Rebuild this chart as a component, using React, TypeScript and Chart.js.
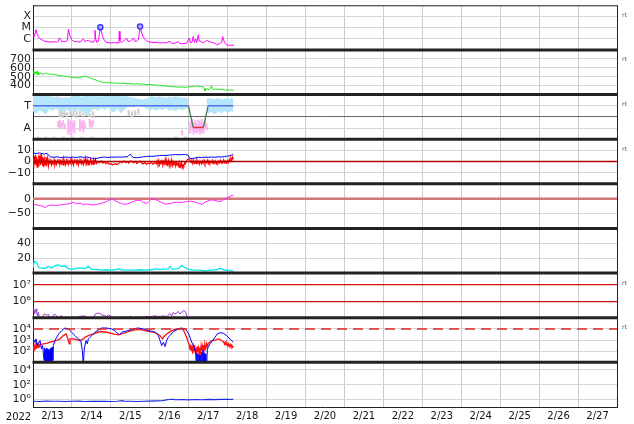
import React, { useEffect, useRef } from 'react';
import { Chart, registerables } from 'chart.js';

Chart.register(...registerables);

type Pair = [number, number];
type Streak = [number, number, number];

// ---------- axis labels ----------
const dayLabels = ['2/13', '2/14', '2/15', '2/16', '2/17', '2/18', '2/19', '2/20', '2/21', '2/22', '2/23', '2/24', '2/25', '2/26', '2/27'];
const yearLabel = '2022';
const xrayTicks = [1e-4, 1e-5, 1e-6];
const xrayTickLabels = ['X', 'M', 'C'];
const speedTicks = [400, 500, 600, 700];
const sectorTicks = [1, 2, 3];
const sectorTickLabels = ['A', '', 'T'];
const bTicks = [-10, 0, 10];
const bTickLabels = ['\u221210', '0', '10'];
const dstTicks = [-50, 0];
const dstTickLabels = ['\u221250', '0'];
const densTicks = [20, 40];
const elecTicks = [1e6, 1e7];
const elecTickLabels = ['10\u2076', '10\u2077'];
const protTicks = [1e2, 1e3, 1e4];
const protTickLabels = ['10\u00b2', '10\u00b3', '10\u2074'];
const lowTicks = [1, 1e2, 1e4];
const lowTickLabels = ['10\u2070', '10\u00b2', '10\u2074'];
const rtPanels = [0, 1, 2, 3, 6, 7];

// ---------- series (x = hours since 2/13 00:00) ----------
const xrayFlux: Pair[] = [[0,2.3e-6],[0.8,1.5e-6],[1.85,6.4e-6],[2.6,2.5e-6],[3.5,1.3e-6],[4.8,9e-7],[6.4,7e-7],[8,5.5e-7],[10.5,5.1e-7],[12.5,5.4e-7],[14.5,5e-7],[15.6,6e-7],[16.2,1.2e-6],[17,9e-7],[17.6,5.5e-7],[18.7,5.9e-7],[20,5.5e-7],[21.2,7e-7],[21.8,7.4e-6],[22.6,2.2e-6],[23.8,8.3e-7],[25,6e-7],[26.9,5.5e-7],[29,5.1e-7],[31,9.5e-7],[32.1,6e-7],[34.1,7.2e-7],[35.5,5.5e-7],[37.2,5e-7],[37.8,7e-7],[38.2,5.6e-6],[38.7,9e-7],[39.3,4.8e-7],[40.3,6e-7],[41,3e-6],[41.5,1.1e-5],[42.2,4e-6],[43,1.5e-6],[43.8,8.3e-7],[45,5e-7],[47.5,4.2e-7],[50,4.5e-7],[52.6,4.2e-7],[53,1e-6],[53.2,4.6e-6],[53.6,7e-7],[54.5,4.8e-7],[55.7,5.9e-7],[57.7,1.17e-6],[58.5,6e-7],[59.8,5.9e-7],[61.9,1.2e-6],[62.8,6e-7],[63.9,5.9e-7],[64.9,8e-7],[65.5,3e-6],[66,1.26e-5],[66.8,4e-6],[67.8,1.6e-6],[69,9e-7],[70.5,6e-7],[72.1,5.1e-7],[74,4.6e-7],[76.2,4.8e-7],[78,4.2e-7],[80.4,4.5e-7],[82,4.2e-7],[84.5,6e-7],[85.5,4e-7],[87,3.8e-7],[89.6,5.5e-7],[90.5,3.8e-7],[92,3.6e-7],[94.7,4e-7],[96.4,1.17e-6],[97,4.5e-7],[98,5e-7],[98.8,1.6e-6],[99.5,4.8e-7],[100.3,9.5e-7],[100.9,4.5e-7],[101.9,2.3e-6],[102.5,6e-7],[103,5.9e-7],[105,4.2e-7],[107,7.2e-7],[108.5,5.5e-7],[110.2,4.8e-7],[112,4e-7],[113.2,2.9e-7],[115,3.6e-7],[116.3,5e-7],[116.9,1.6e-6],[117.8,6e-7],[118.6,3.5e-7],[119.4,2.8e-7],[121,2.6e-7],[122.5,2.7e-7],[123.9,2.6e-7]];
const flareMarks: Pair[] = [[41.5,1.1e-5],[66,1.26e-5]];

const windSpeed: Pair[] = [[0,540],[0.5,565],[1,525],[1.5,555],[2,530],[2.5,560],[3,520],[3.5,548],[4,528],[5,545],[6,522],[7,540],[8,530],[9,536],[10,524],[11,532],[12,528],[13,522],[14,526],[15,518],[16,512],[17,515],[18,508],[19,510],[20,502],[21,506],[22,498],[23,494],[24,490],[25,494],[26,488],[27,492],[28,486],[29,490],[30,496],[31,502],[32,506],[33,500],[34,495],[35,488],[36,480],[37,472],[38,468],[39,462],[40,452],[41,448],[42,440],[43,436],[44,438],[45,433],[46,435],[47,430],[48,434],[49,430],[50,428],[51,432],[52,426],[54,424],[56,428],[58,420],[60,424],[62,418],[64,422],[66,416],[68,418],[70,412],[72,414],[74,408],[76,406],[78,402],[80,398],[82,396],[84,392],[86,388],[88,386],[90,382],[92,386],[94,380],[95,384],[96,390],[97,386],[98,394],[99,388],[100,392],[101,398],[102,394],[103,388],[104,392],[105,385],[105.5,370],[106,341],[106.5,360],[107,352],[107.5,368],[108,356],[109,362],[109.5,372],[110,400],[110.5,372],[111,356],[112,360],[113,362],[114,356],[115,360],[116,356],[117,358],[118,352],[119,350],[120,354],[121,350],[122,352],[123,348],[123.9,351]];

const phiUpper: (number | null)[][] = [[0,3.88],[2,3.9],[4,3.85],[6,3.9],[8,3.82],[10,3.86],[12,3.8],[14,3.75],[16,3.8],[18,3.7],[20,3.78],[22,3.72],[24,3.85],[26,3.9],[28,3.86],[30,3.8],[32,3.9],[34,3.85],[36,3.9],[38,3.82],[40,3.88],[42,3.8],[44,3.9],[46,3.86],[48,3.92],[50,3.85],[52,3.9],[54,3.84],[56,3.88],[58,3.82],[60,3.75],[62,3.72],[64,3.65],[66,3.6],[68,3.55],[70,3.68],[72,3.8],[74,3.85],[76,3.75],[78,3.82],[80,3.78],[82,3.7],[84,3.8],[86,3.75],[88,3.85],[90,3.78],[92,3.72],[94,3.75],[95.5,3.7],[100,null],[107,3.6],[108,3.7],[110,3.65],[112,3.6],[114,3.7],[116,3.55],[118,3.65],[120,3.6],[122,3.7],[123.5,3.6]];
const phiLower: (number | null)[][] = [[0,2.5],[2,2.3],[4,2.6],[6,2.45],[8,2.2],[10,2.7],[12,2.55],[14,2.75],[16,2.6],[18,2.45],[20,2.7],[22,2.5],[24,2.65],[26,2.4],[28,2.7],[30,2.5],[32,2.35],[34,2.2],[36,2.6],[38,2.7],[40,2.55],[42,2.8],[44,2.65],[46,2.8],[48,2.6],[50,2.4],[52,2.75],[54,2.3],[56,2.6],[58,2.85],[60,2.9],[62,2.8],[64,3.0],[66,2.95],[68,2.9],[70,2.75],[72,2.6],[74,2.7],[76,2.55],[78,2.75],[80,2.6],[82,2.8],[84,2.55],[86,2.65],[88,2.5],[90,2.7],[92,2.6],[94,2.75],[95.5,2.8],[100,null],[107,2.5],[108,2.3],[110,2.45],[112,2.2],[114,2.5],[116,2.3],[118,2.55],[120,2.35],[122,2.5],[123.5,2.4]];
const greyStreaks: Streak[] = [[0.5,3.98,3.8],[2,3.98,3.85],[3.5,3.97,3.8],[5,3.98,3.82],[7,3.97,3.85],[9,3.98,3.8],[11,3.96,3.82],[13,3.97,3.85],[15,3.98,3.8],[16.5,2.6,2.0],[18,2.5,1.9],[19.5,2.6,2.1],[21,2.4,1.95],[23,2.5,2.1],[25,2.6,2.0],[27,2.5,1.9],[29,2.6,2.05],[31,2.4,1.95],[33,2.5,2.1],[35,2.3,2.0],[37,2.5,1.9],[3,0.25,0.12],[8,0.25,0.12],[13,0.25,0.12],[19,0.25,0.12],[24,0.25,0.12],[30,0.25,0.12],[36,0.25,0.12],[88,0.25,0.12],[94,0.25,0.12],[59,2.6,2.1],[61,2.5,2.0],[63,2.6,2.05],[65,2.7,2.2]];
const pinkStreaks: Streak[] = [[15.5,1.6,1.1],[16.5,1.75,0.9],[17.5,1.5,1.0],[18.5,1.7,1.2],[19.5,1.4,0.9],[21.8,1.8,0.4],[22.8,1.6,0.6],[23.6,1.75,0.3],[24.5,1.5,0.8],[25.5,1.7,0.5],[29,1.8,0.7],[30,1.6,0.9],[31,1.75,0.6],[32,1.5,1.0],[35,1.8,1.1],[36,1.6,1.0],[37,1.7,1.2],[92,0.8,0.35],[97,1.6,0.5],[98,1.8,0.8],[99,1.5,0.4],[100,1.7,0.6],[101,1.4,0.5],[102,1.75,0.7],[103,1.6,0.4],[104,1.8,0.6],[105,1.5,0.5],[106,1.7,0.9],[107,1.4,0.8]];
const sectorLine: Pair[] = [[0,3],[95.8,3],[98.8,1.05],[105,1.05],[108,3],[123.5,3]];

const bzSeries: Pair[] = [[0,-4],[0.3,3],[0.6,-5],[1,5],[1.3,-2],[1.6,6],[2,-3],[2.3,4],[2.6,-5],[3,2],[3.3,-4],[3.6,6],[4,-1],[4.3,5],[4.6,-3],[5,7],[5.3,-2],[5.6,4],[6,-4],[6.3,3],[6.6,-5],[7,2],[7.5,-3],[8,4],[8.5,-2],[9,3],[9.5,-4],[10,1],[10.5,-2],[11,2],[11.5,-3],[12,0],[12.5,-2],[13,1.5],[13.5,-3],[14,0],[14.5,-2.5],[15,1],[15.5,-1.5],[16,2],[16.5,-3],[17,0.5],[17.5,-2],[18,1],[18.5,-3],[19,2],[19.5,-1],[20,-3],[20.5,1],[21,-2],[21.5,2],[22,-2.5],[22.5,0],[23,-1.5],[23.5,2.5],[24,-2],[24.5,0],[25,-3],[25.5,1],[26,-1],[26.5,2],[27,-2],[27.5,0.5],[28,-3],[28.5,1],[29,-1.5],[29.5,2.5],[30,-2],[30.5,0],[31,-2.5],[31.5,1.5],[32,-1],[32.5,3],[33,-2],[33.5,1],[34,-3],[34.5,0],[35,-1.5],[35.5,2],[36,-2],[36.5,0.5],[37,-2.5],[37.5,1],[38,-1],[38.5,2],[39,-2],[40,0],[41,-1],[42,0.5],[43,-1.5],[44,-0.5],[45,-2],[46,-1],[47,-2.5],[48,-2],[49,-3],[50,-2.5],[51,-2],[52,-2.8],[53,-1.5],[54,0],[55,-1],[56,0.5],[57,-1],[58,0],[59,-1.5],[60,0.5],[61,0],[62,-1],[63,0.2],[64,-1.8],[65,-0.5],[66,0.5],[67,-1.5],[68,-2],[69,-1],[70,-2.5],[71,-1.5],[72,-2],[73,-0.5],[74,-2.5],[75,-1],[76,-2],[76.5,0.5],[77,-2],[77.5,1],[78,-3],[78.5,0],[79,-2],[79.5,1.5],[80,-3.5],[80.5,0],[81,-2],[81.5,2],[82,-3],[82.5,0.5],[83,-2.5],[83.5,1],[84,-4],[84.5,0],[85,-2],[85.5,1.5],[86,-3.5],[86.5,-0.5],[87,-3],[87.5,0.5],[88,-4],[88.5,-1],[89,-3],[89.5,-1.5],[90,-5],[90.5,-2],[91,-4.5],[91.5,-1],[92,-5.5],[92.5,-3],[93,-4],[93.5,-1],[94,-2],[94.5,0],[95,1.5],[96,2.5],[96.8,1],[97.5,-1],[98,0.5],[98.5,-2],[99,1],[99.5,-1.5],[100,0],[100.5,-2],[101,1.5],[101.5,-1],[102,0],[102.5,-2.5],[103,0.5],[103.5,-1],[104,-2],[104.5,0.5],[105,-1.5],[105.5,1],[106,-2],[106.5,0],[107,-1],[107.5,1],[108,-2],[108.5,0.5],[109,-1.5],[109.5,0],[110,-1],[110.5,1],[111,-2],[111.5,0],[112,-1],[112.5,0.5],[113,-2],[113.5,-0.5],[114,-1.5],[114.5,0.5],[115,-1],[115.5,1],[116,-1.5],[116.5,0],[117,-1],[117.5,1.5],[118,-1],[118.5,0.5],[119,-1.5],[119.5,0],[120,1],[120.5,-1],[121,2],[121.5,0],[122,3],[122.5,1],[123,4],[123.5,2]];
const btSeries: Pair[] = [[0,7.5],[2,7.2],[4,7.6],[6,7],[7,6.5],[8,7.4],[9,6.8],[10,5],[11,4],[13,3.8],[15,4.2],[17,3.6],[19,3.8],[21,4],[23,3.5],[25,3.9],[27,3.6],[29,4.3],[31,3.7],[33,4],[35,3.5],[36,2.8],[37,3.2],[38,2.5],[40,3],[42,3.8],[44,4],[46,3.6],[48,4],[50,3.8],[52,4.1],[54,3.9],[56,4.2],[58,4],[59,5.5],[60,6.5],[61,4.5],[62,3.5],[64,3.4],[66,3.8],[68,4.2],[70,4.5],[72,4.8],[74,4.6],[76,5],[78,5.3],[80,5.5],[82,5.4],[84,5.8],[86,6],[88,6.2],[90,6],[92,6.3],[94,6.2],[95.5,5.8],[96.5,3],[98,2.5],[100,3.2],[102,3.8],[104,3.6],[106,4],[108,3.7],[110,4.1],[112,3.8],[114,4.2],[116,4],[118,4.5],[120,4.8],[122,5.5],[123.5,6.5]];

const dstSeries: Pair[] = [[0.2,-19],[1.5,-20],[3.3,-22],[5.3,-24],[6.5,-27],[7.4,-30],[8.5,-26],[9.5,-23],[11.5,-21],[13,-22],[14.6,-23],[16.5,-21],[18.7,-19],[20.5,-18],[22.8,-16],[24.9,-12],[26.9,-17],[29,-14],[31,-20],[32.5,-18],[34.1,-19],[37.2,-21],[39,-19],[41.3,-17],[44.4,-12],[46,-8],[47.5,-3],[49.5,-3],[51,-8],[52.6,-12],[54.5,-16],[56.7,-19],[58.5,-17],[59.8,-14],[62,-9],[63.9,-6],[66,-5],[68,-12],[70.1,-16],[71.5,-9],[73.2,0],[75.2,-2],[76.8,-6],[78.3,-10],[80,-15],[81.4,-18],[83,-17],[84.5,-16],[86.5,-14],[88.6,-12],[90.5,-13],[92.7,-12],[94.5,-10],[96.8,-8],[99,-10],[100.9,-12],[102.5,-16],[104,-19],[106,-12],[107.5,-8],[109.1,-5],[110.8,-4],[112.2,-6],[114,-8],[115.3,-10],[117,-5],[118.4,0],[120,4],[121.5,8],[123.5,12]];

const densSeries: Pair[] = [[0,7],[0.8,16],[1.5,15],[2.3,14],[3.3,9],[4.3,7],[7.4,6.5],[9.5,9],[11.5,7],[13.6,10],[15.6,11],[17.7,9],[19.7,9.5],[21.8,6],[23.8,5],[25.9,6],[29,7],[32,6],[34.1,9],[36.2,5],[39.3,5],[42.3,4],[45.4,4.5],[48.5,4],[50.5,4.5],[52.6,6],[54.7,4],[57.7,4],[61.9,4],[65.9,4.5],[69,4],[73.2,4.5],[75.2,6],[77.3,5],[80.4,5],[83.4,6],[84.5,9],[86.1,5],[89.6,6],[91.6,10],[93.7,7.5],[95.8,5],[98.8,4],[103,4],[106,3],[110.2,4],[113.2,4.5],[115.3,6.5],[117.3,4.5],[121.4,3],[123.5,3]];

const elecFlux: Pair[] = [[0,2.9e5],[0.6,3.2e5],[1,1.7e5],[1.4,2.2e5],[1.85,3.4e5],[2.3,2.5e5],[2.7,1.3e5],[3.3,2.1e5],[3.9,1.05e5],[4.7,5e4],[6,5e4],[6.4,1.5e5],[7.4,1.7e5],[8.4,1.4e5],[9.5,1.6e5],[10.1,1.05e5],[10.9,5e4],[12,6e4],[12.5,1.4e5],[13.6,1.6e5],[14.6,1.3e5],[15.2,6e4],[16.6,1.2e5],[17.7,1.3e5],[18.4,6e4],[19.7,1.1e5],[20.4,6e4],[23.3,6e4],[23.8,1.05e5],[24.4,6e4],[27.4,6e4],[27.9,1.15e5],[29,1.2e5],[31,1.3e5],[33.1,1.15e5],[34,6e4],[37,6e4],[38.2,1.6e5],[39.2,1.8e5],[40.3,1.9e5],[41.3,1.8e5],[42.3,1.5e5],[44.4,1.3e5],[45.4,1.2e5],[46.4,1.5e5],[47.5,1.3e5],[48.5,1.15e5],[49.5,6e4],[54,6e4],[54.7,1.15e5],[55.5,6e4],[59.2,6e4],[59.8,1.3e5],[60.5,6e4],[63.4,6e4],[63.9,1.15e5],[64.5,6e4],[68.5,6e4],[69,1.15e5],[70.5,1.2e5],[72.1,1.15e5],[73.5,1.2e5],[75.2,1.3e5],[76.8,1.2e5],[78.3,1.15e5],[80.4,1.3e5],[82.4,1.15e5],[84.5,1.8e5],[85.5,1.3e5],[86.5,2.1e5],[87.5,1.7e5],[88.5,1.9e5],[89.6,2.4e5],[90.6,1.7e5],[91.7,2.1e5],[93.1,2.8e5],[94.1,2.1e5],[95.1,1.05e5],[95.8,6e4]];

const protBlue: Pair[] = [[0.2,1260],[1.2,650],[1.85,1260],[2.7,320],[3.7,650],[4.3,910],[5.3,160],[5.95,320],[6.8,15],[7.1,200],[7.4,5],[7.7,150],[8.0,5],[8.3,180],[8.6,8],[8.9,160],[9.2,5],[9.5,140],[9.8,5],[10.1,120],[10.4,6],[10.7,170],[11,5],[11.3,200],[11.6,10],[11.9,230],[12.2,15],[12.5,320],[13.6,910],[14.6,1800],[16.2,4100],[17.7,6900],[19.7,12000],[21.8,9800],[23.8,5000],[25.9,2500],[27.9,1260],[29.4,910],[30.4,120],[31,5],[31.6,160],[32.7,910],[33.5,460],[34.1,1260],[36.2,2500],[38.2,5000],[40.3,7900],[42.3,12000],[45.4,12000],[48.5,9800],[50.5,6900],[52,4100],[53.2,3100],[54.7,5000],[56.7,5800],[59.8,7900],[62.9,11000],[64.9,12000],[68,9800],[71.1,6900],[73.2,6200],[75.2,5000],[77.3,2500],[78.3,910],[79.3,320],[80.4,650],[81.4,260],[82.4,910],[83.4,1800],[84.5,2500],[86.1,5000],[87.5,6900],[89.6,9800],[91.7,12000],[93.7,9800],[95.1,6200],[96.4,2500],[97.8,650],[99.3,230],[100.3,83],[100.6,10],[100.9,60],[101.2,5],[101.6,59],[102,5],[102.4,45],[102.8,5],[103.2,42],[103.6,5],[104,80],[104.4,5],[104.8,120],[105.2,5],[105.6,60],[106,5],[106.5,59],[107,5],[107.5,150],[108.1,230],[109.1,460],[110.8,910],[112.2,1800],[113.6,3500],[115.3,4500],[117.3,4100],[119.4,2500],[121.4,1260],[123.5,650]];
const protRed: Pair[] = [[0,230],[0.3,160],[0.6,300],[0.9,140],[1.2,260],[1.5,180],[1.8,320],[2.1,200],[2.4,340],[2.7,230],[3,300],[3.3,220],[3.6,360],[3.9,260],[4.3,380],[6.4,460],[8.4,500],[10.5,650],[12.5,750],[14.6,910],[16.6,1260],[18.7,2500],[20.3,3500],[21.2,1800],[21.8,910],[22.4,460],[22.8,1260],[24.9,1260],[26.9,1100],[29,910],[31,1260],[32.1,1800],[34.1,2500],[37.2,3500],[41.3,5800],[45.4,5000],[49.5,3500],[52.6,2900],[54.7,3500],[57.7,5000],[61.9,7900],[66,9000],[69,6900],[72.1,5800],[75.2,5000],[78.3,2500],[79.9,1260],[80.8,2100],[82.4,3500],[85.5,6900],[88.6,9800],[90.6,11000],[92.7,7900],[94.7,1800],[96.4,320],[96.8,150],[97.2,400],[97.6,120],[98,300],[98.4,60],[98.8,250],[99.2,100],[99.6,350],[100,80],[100.4,200],[100.8,20],[101.2,260],[101.6,90],[102,180],[102.4,40],[102.8,220],[103.2,70],[103.6,300],[104,110],[104.4,260],[104.8,60],[105.2,350],[105.6,150],[106,400],[106.5,180],[107,450],[107.5,250],[108,500],[110.2,910],[112.2,1000],[114.3,1260],[116.3,910],[117.5,700],[118,420],[118.5,600],[119,380],[119.5,500],[120,300],[120.5,450],[121,280],[121.5,400],[122,260],[122.5,350],[123,220],[123.5,280]];

const lowFlux: Pair[] = [[0,0.6],[4,0.55],[8,0.62],[12,0.58],[16,0.6],[20,0.55],[24,0.58],[28,0.62],[32,0.56],[36,0.6],[40,0.57],[44,0.6],[48,0.55],[52,0.58],[55,0.72],[56,0.58],[60,0.6],[64,0.56],[68,0.6],[72,0.62],[76,0.66],[80,0.7],[82,0.9],[84,1.0],[86,1.05],[88,0.95],[92,1.0],[96,0.92],[100,1.0],[104,0.95],[108,1.05],[112,0.98],[116,1.05],[120,1.1],[122,1.0],[123.5,1.15]];

// reference levels
const bzZero: Pair[] = [[0,0],[360,0]];
const dstZero: Pair[] = [[0,0],[360,0]];
const protThreshold: Pair[] = [[0,1e4],[360,1e4]];

const X_MAX_HOURS = dayLabels.length * 24;
const PANEL_IDS = ['y1', 'y2', 'y3', 'y4', 'y5', 'y6', 'y7', 'y8', 'y9'];

const toXY = (a: (number | null)[][]) => a.map(([x, y]) => ({ x: x as number, y }));
const streakXY = (a: Streak[]) => a.flatMap(([x, t, b]) => [{ x, y: t as number | null }, { x, y: b as number | null }, { x, y: null }]);

const tickSetter = (vals: number[]) => (s: any) => {
  s.ticks = vals.map((v) => ({ value: v }));
};
const labelFrom = (vals: number[], labels: string[]) => (v: any) => {
  const i = vals.findIndex((t) => Math.abs(t - v) <= Math.abs(t) * 1e-6 + 1e-12);
  return i >= 0 ? labels[i] : '';
};

const panelAxis = (extra: any) => ({
  stack: 'panels',
  stackWeight: 1,
  position: 'left',
  offset: false,
  border: { display: true, color: '#222', width: 1 },
  grid: { color: '#d6d6d6', lineWidth: 1, drawTicks: false },
  afterFit: (s: any) => {
    s.width = 33;
    s.paddingTop = 0;
    s.paddingBottom = 0;
  },
  ...extra,
  ticks: {
    padding: 2,
    color: '#222',
    font: { family: 'DejaVu Sans', size: 11 },
    autoSkip: false,
    maxRotation: 0,
    ...(extra.ticks || {}),
  },
});

const panelFrame = {
  id: 'panelFrame',
  beforeDatasetDraw(chart: any, args: any) {
    const ys = chart.scales[args.meta.yAxisID];
    const a = chart.chartArea;
    const ctx = chart.ctx;
    ctx.save();
    ctx.beginPath();
    ctx.rect(a.left, ys.top, a.right - a.left, ys.bottom - ys.top);
    ctx.clip();
  },
  afterDatasetDraw(chart: any) {
    chart.ctx.restore();
  },
  afterDraw(chart: any) {
    const ctx = chart.ctx;
    const a = chart.chartArea;
    ctx.save();
    ctx.strokeStyle = '#222';
    ctx.lineWidth = 3;
    PANEL_IDS.slice(0, -1).forEach((id) => {
      const s = chart.scales[id];
      ctx.beginPath();
      ctx.moveTo(a.left - 0.5, s.bottom);
      ctx.lineTo(a.right + 0.5, s.bottom);
      ctx.stroke();
    });
    ctx.lineWidth = 1;
    ctx.beginPath();
    ctx.moveTo(a.left, a.top + 0.5);
    ctx.lineTo(a.right + 0.5, a.top + 0.5);
    ctx.moveTo(a.right + 0.5, a.top);
    ctx.lineTo(a.right + 0.5, a.bottom);
    ctx.stroke();
    ctx.fillStyle = '#555';
    ctx.font = '6px "DejaVu Sans"';
    ctx.textAlign = 'left';
    ctx.textBaseline = 'middle';
    rtPanels.forEach((i) => {
      const s = chart.scales[PANEL_IDS[i]];
      ctx.fillText('rt', a.right + 5, s.top + 10);
    });
    ctx.fillStyle = '#111';
    ctx.font = '10px "DejaVu Sans"';
    ctx.textAlign = 'center';
    ctx.textBaseline = 'alphabetic';
    ctx.fillText(yearLabel, a.left - 14.5, a.bottom + 12.5);
    ctx.restore();
  },
};

export default function App() {
  const ref = useRef<HTMLCanvasElement | null>(null);

  useEffect(() => {
    if (!ref.current) return;
    const halfDayTicks = Array.from({ length: dayLabels.length * 2 + 1 }, (_, i) => i * 12);

    const line = (data: any[], yAxisID: string, color: string, width = 1, extra: any = {}) => ({
      data,
      yAxisID,
      xAxisID: 'x',
      borderColor: color,
      backgroundColor: color,
      borderWidth: width,
      pointRadius: 0,
      tension: 0,
      spanGaps: false,
      fill: false,
      ...extra,
    });

    const dsList: any[] = [
      line(toXY(xrayFlux), 'y1', '#ff00ff', 1),
      {
        type: 'scatter',
        data: toXY(flareMarks),
        yAxisID: 'y1',
        xAxisID: 'x',
        pointRadius: 2.6,
        pointBorderWidth: 1.3,
        pointBorderColor: '#3030ff',
        pointBackgroundColor: '#b0a0ff',
        showLine: false,
      },
      line(toXY(windSpeed), 'y2', '#1ee81e', 1),
      line(streakXY(greyStreaks), 'y3', '#d0d0d0', 2.2),
      line(toXY(phiUpper), 'y3', 'rgba(0,0,0,0)', 0),
      line(toXY(phiLower), 'y3', 'rgba(0,0,0,0)', 0, { fill: '-1', backgroundColor: '#b3e6fb' }),
      line(streakXY(pinkStreaks), 'y3', '#f9b6f0', 2.2),
      line(toXY(sectorLine), 'y3', '#5b6ee8', 1.3, {
        segment: {
          borderColor: (c: any) => {
            const a = c.p0.parsed.y;
            const b = c.p1.parsed.y;
            if (a > 2 && b > 2) return '#5b6ee8';
            if (a < 2 && b < 2) return '#e53030';
            return '#4f7a4f';
          },
        },
      }),
      line(toXY(bzSeries), 'y4', '#ff0000', 1.2),
      line(toXY(btSeries), 'y4', '#0000ff', 1),
      line(toXY(bzZero), 'y4', '#b00000', 1.3),
      line(toXY(dstZero), 'y5', '#d27878', 2.6),
      line(toXY(dstSeries), 'y5', '#ff22ff', 1),
      line(toXY(densSeries), 'y6', '#00e8e8', 1.3),
      line(toXY(elecFlux), 'y7', '#9933cc', 1),
      line(toXY(protRed), 'y8', '#ff1010', 1.3),
      line(toXY(protBlue), 'y8', '#0000ff', 1),
      line(toXY(protThreshold), 'y8', '#dd2a2a', 1.5, { borderDash: [10, 6] }),
      line(toXY(lowFlux), 'y9', '#1a2be0', 1.1),
    ];
    const N = dsList.length;
    const datasets = dsList.map((d, i) => ({ ...d, order: N - i }));

    // stacked axes are laid out bottom-up in creation order, so build from the last panel
    const scales: any = {
      x: {
        type: 'linear',
        position: 'bottom',
        min: 0,
        max: X_MAX_HOURS,
        afterBuildTicks: tickSetter(halfDayTicks),
        afterFit: (s: any) => {
          s.height = 17;
          s.paddingLeft = 0;
          s.paddingRight = 0;
        },
        border: { display: true, color: '#222', width: 1 },
        grid: {
          drawTicks: false,
          lineWidth: 1,
          color: (c: any) => (c.tick && c.tick.value % 24 === 0 ? '#cdcdcd' : 'rgba(0,0,0,0)'),
        },
        ticks: {
          autoSkip: false,
          maxRotation: 0,
          minRotation: 0,
          padding: 3,
          color: '#111',
          font: { family: 'DejaVu Sans', size: 10 },
          callback: (v: any) => (v % 24 === 12 ? dayLabels[(v - 12) / 24] : ''),
        },
      },
      y9: panelAxis({
        type: 'logarithmic', min: 0.1, max: 1e5,
        afterBuildTicks: tickSetter(lowTicks),
        ticks: { callback: labelFrom(lowTicks, lowTickLabels) },
      }),
      y8: panelAxis({
        type: 'logarithmic', min: 10, max: 1e5,
        afterBuildTicks: tickSetter(protTicks),
        ticks: { callback: labelFrom(protTicks, protTickLabels) },
      }),
      y7: panelAxis({
        type: 'logarithmic', min: 1e5, max: 5e7,
        afterBuildTicks: tickSetter(elecTicks),
        grid: { drawTicks: false, lineWidth: 1.3, color: '#cc1111' },
        ticks: { callback: labelFrom(elecTicks, elecTickLabels) },
      }),
      y6: panelAxis({
        type: 'linear', min: 0, max: 60,
        afterBuildTicks: tickSetter(densTicks),
        ticks: { callback: (v: any) => String(v) },
      }),
      y5: panelAxis({
        type: 'linear', min: -100, max: 50,
        afterBuildTicks: tickSetter(dstTicks),
        ticks: { callback: labelFrom(dstTicks, dstTickLabels) },
      }),
      y4: panelAxis({
        type: 'linear', min: -20, max: 20,
        afterBuildTicks: tickSetter(bTicks),
        ticks: { callback: labelFrom(bTicks, bTickLabels) },
      }),
      y3: panelAxis({
        type: 'linear', min: 0, max: 4,
        afterBuildTicks: tickSetter(sectorTicks),
        grid: { drawTicks: false, lineWidth: 1, color: (c: any) => (c.tick && c.tick.value === 2 ? '#666666' : '#d6d6d6') },
        ticks: { callback: labelFrom(sectorTicks, sectorTickLabels) },
      }),
      y2: panelAxis({
        type: 'linear', min: 300, max: 800,
        afterBuildTicks: tickSetter(speedTicks),
        ticks: { callback: (v: any) => String(v) },
      }),
      y1: panelAxis({
        type: 'logarithmic', min: 1e-7, max: 1e-3,
        afterBuildTicks: tickSetter(xrayTicks),
        ticks: { callback: labelFrom(xrayTicks, xrayTickLabels) },
      }),
    };

    const chart = new Chart(ref.current, {
      type: 'line',
      data: { datasets },
      plugins: [panelFrame],
      options: {
        animation: false,
        responsive: false,
        devicePixelRatio: 1,
        layout: { padding: { top: 2, right: 17, left: 0, bottom: 0 } },
        plugins: { legend: { display: false }, tooltip: { enabled: false }, title: { display: false } },
        elements: { point: { radius: 0 } },
        scales,
      } as any,
    });
    return () => chart.destroy();
  }, []);

  return (
    <div style={{ position: 'fixed', left: 0, top: 0, width: 634, height: 424, background: '#fff' }}>
      <canvas ref={ref} width={634} height={424} style={{ display: 'block' }} />
    </div>
  );
}
